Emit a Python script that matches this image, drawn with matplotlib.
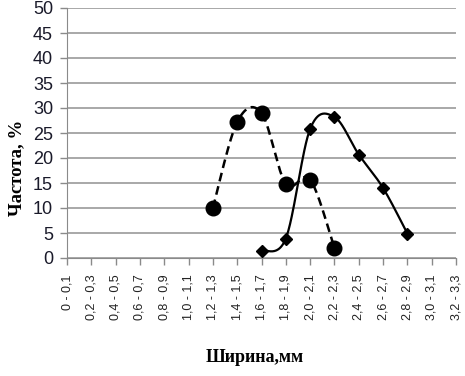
import numpy as np
import matplotlib
matplotlib.use("Agg")
import matplotlib.pyplot as plt

# категории ширины, мм
categories = ["0 - 0,1", "0,2 - 0,3", "0,4 - 0,5", "0,6 - 0,7", "0,8 - 0,9",
              "1,0 - 1,1", "1,2 - 1,3", "1,4 - 1,5", "1,6 - 1,7", "1,8 - 1,9",
              "2,0 - 2,1", "2,2 - 2,3", "2,4 - 2,5", "2,6 - 2,7", "2,8 - 2,9",
              "3,0 - 3,1", "3,2 - 3,3"]
# серия 1 (пунктир, круги)
s1_cats = ["1,2 - 1,3", "1,4 - 1,5", "1,6 - 1,7", "1,8 - 1,9", "2,0 - 2,1", "2,2 - 2,3"]
s1_vals = [10, 27.2, 29, 14.8, 15.7, 2]
# серия 2 (сплошная, ромбы)
s2_cats = ["1,6 - 1,7", "1,8 - 1,9", "2,0 - 2,1", "2,2 - 2,3", "2,4 - 2,5", "2,6 - 2,7", "2,8 - 2,9"]
s2_vals = [1.5, 3.9, 25.8, 28.2, 20.7, 14, 4.9]
yticks = list(range(0, 51, 5))


def smooth(x, y, n=30):
    # сглаживание как в Excel (кардинальный сплайн через точки)
    x = np.asarray(x, float); y = np.asarray(y, float)
    px = np.r_[x[0], x, x[-1]]; py = np.r_[y[0], y, y[-1]]
    t = np.linspace(0, 1, n)
    ox, oy = [], []
    for i in range(1, len(px) - 2):
        p0, p1, p2, p3 = (np.array([px[j], py[j]]) for j in (i - 1, i, i + 1, i + 2))
        m1 = (p2 - p0) / 2; m2 = (p3 - p1) / 2
        h00 = 2*t**3 - 3*t**2 + 1; h10 = t**3 - 2*t**2 + t
        h01 = -2*t**3 + 3*t**2; h11 = t**3 - t**2
        pts = np.outer(h00, p1) + np.outer(h10, m1) + np.outer(h01, p2) + np.outer(h11, m2)
        ox.extend(pts[:, 0]); oy.extend(pts[:, 1])
    return ox, oy


fig = plt.figure(figsize=(4.65, 3.76), dpi=100)
ax = fig.add_axes([67/465, 1-258/376, (456-67)/465, 250/376])

idx = {c: i for i, c in enumerate(categories)}
x1 = [idx[c] for c in s1_cats]; x2 = [idx[c] for c in s2_cats]

sx, sy = smooth(x1, s1_vals)
ax.plot(sx, sy, color="black", lw=1.8, ls=(0, (3.5, 2)), zorder=3)
ax.plot(x1, s1_vals, "o", color="black", ms=10.5, zorder=4)
sx, sy = smooth(x2, s2_vals)
ax.plot(sx, sy, color="black", lw=1.6, zorder=3)
ax.plot(x2, s2_vals, "D", color="black", ms=6, zorder=4)

ax.set_xlim(0, len(categories) - 1)
ax.set_ylim(0, 50)
ax.set_yticks(yticks)
ax.set_yticklabels([str(v) for v in yticks], fontsize=13, family="Liberation Sans", color="#1a1a2a")
ax.set_xticks(range(len(categories)))
ax.set_xticklabels(categories, rotation=90, fontsize=9, family="Liberation Sans", color="#222222")
ax.grid(axis="y", color="#9a9a9a", lw=1.2)
ax.set_axisbelow(True)
for s in ("top", "right"):
    ax.spines[s].set_visible(False)
for s in ("left", "bottom"):
    ax.spines[s].set_color("#8a8a8a")
ax.tick_params(axis="both", colors="#8a8a8a", length=5, width=1)
ax.tick_params(axis="y", labelcolor="#1a1a2a", pad=5)
ax.tick_params(axis="x", labelcolor="#222222", pad=7)

fig.text(255/465, 1-357/376, "Ширина,мм", ha="center", va="center",
         fontsize=13, fontweight="bold", family="Liberation Serif")
fig.text(17/465, 1-168/376, "Частота, %", ha="center", va="center", rotation=90,
         fontsize=13.5, fontweight="bold", family="Liberation Serif")

fig.savefig("out.png", dpi=100)
